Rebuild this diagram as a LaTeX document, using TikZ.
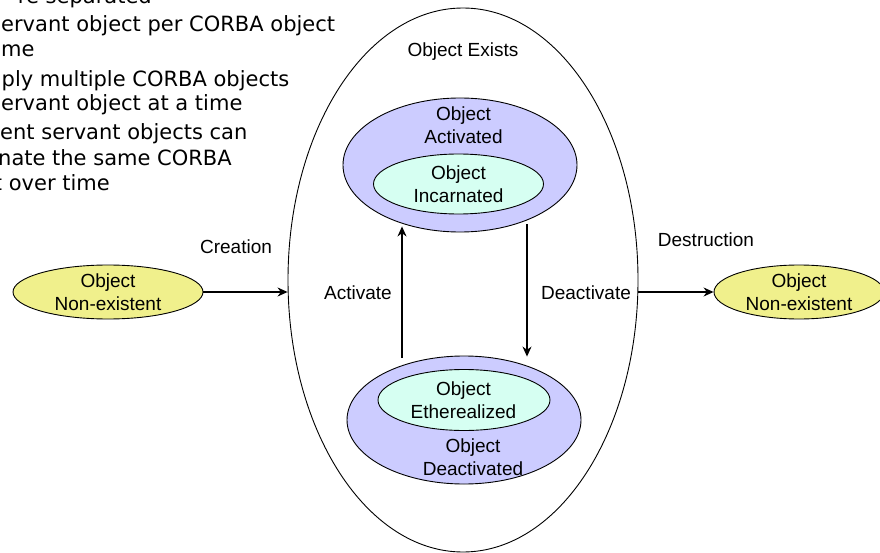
\documentclass[tikz,border=0pt]{standalone}
\usepackage{fontspec}
\setmainfont{Liberation Sans}
\newfontfamily\notefont{DejaVu Sans}
\usetikzlibrary{shapes.geometric,arrows.meta,calc}
\definecolor{nonexist}{RGB}{240,240,140}
\definecolor{stateblue}{RGB}{204,204,255}
\definecolor{statemint}{RGB}{214,255,242}
\begin{document}
\begin{tikzpicture}[x=1pt,y=-1pt,
  state/.style={ellipse, draw=black, line width=0.9pt, inner sep=0pt},
  lbl/.style={font=\fontsize{19}{23}\selectfont, align=center, inner sep=0pt},
  note/.style={font=\notefont\fontsize{21}{25}\selectfont, inner sep=0pt},
  arr/.style={line width=1.1pt, -{Stealth[length=10pt,width=9pt]}}]
\useasboundingbox (0,0) rectangle (880,553);
\clip (0,0) rectangle (880,553);

% bullet notes at the upper left
\node[note, anchor=base east] (n0) at (152,4) {re separated};
\node[note, anchor=base west] (n1) at (1,32) {ervant object per CORBA object};
\node[note, anchor=base west] (n2) at (1,57) {me};
\node[note, anchor=base west] (n3) at (1.5,87) {ply multiple CORBA objects};
\node[note, anchor=base west] (n4) at (1,111) {ervant object at a time};
\node[note, anchor=base west] (n5) at (0,140) {ent servant objects can};
\node[note, anchor=base west] (n6) at (-2,166) {nate the same CORBA};
\node[note, anchor=base east] (n7) at (110,191) {t over time};

% states
\node[state, fill=white, minimum width=350pt, minimum height=544pt] (exists) at (463,280) {};
\node[state, fill=stateblue, minimum width=234pt, minimum height=134pt] (act) at (460,165) {};
\node[state, fill=statemint, minimum width=170pt, minimum height=60pt] (inc) at (458.5,184) {};
\node[state, fill=stateblue, minimum width=234pt, minimum height=128pt] (deact) at (464,420) {};
\node[state, fill=statemint, minimum width=172pt, minimum height=61pt] (ether) at (464,400) {};
\node[state, lbl, fill=nonexist, minimum width=190pt, minimum height=54pt] (ne1) at (108,292) {Object\\Non-existent};
\node[state, lbl, fill=nonexist, minimum width=170pt, minimum height=54pt] (ne2) at (799,292) {Object\\Non-existent};

% state labels
\node[lbl] (existsL) at (463,52) {Object Exists};
\node[lbl] (actL) at (463.5,125) {Object\\Activated};
\node[lbl] (incL) at (458.5,184.5) {Object\\Incarnated};
\node[lbl] (etherL) at (463.5,400) {Object\\Etherealized};
\node[lbl] (deactL) at (473,457.5) {Object\\Deactivated};

% transitions
\draw[arr] (ne1.east) -- (ne1.east -| exists.west);
\draw[arr] (exists.east |- ne2.west) -- (ne2.west);
\draw[arr] ($(deact.north)+(-62,2)$) -- ($(act.south)+(-58,-6)$);
\draw[arr] ($(act.south)+(67,-8)$) -- ($(deact.north)+(63,1)$);

% transition labels
\node[lbl] (creation) at (236,247) {Creation};
\node[lbl] (destruction) at (706,240) {Destruction};
\node[lbl] (activate) at (358,293) {Activate};
\node[lbl] (deactivate) at (586,293) {Deactivate};
\end{tikzpicture}
\end{document}
